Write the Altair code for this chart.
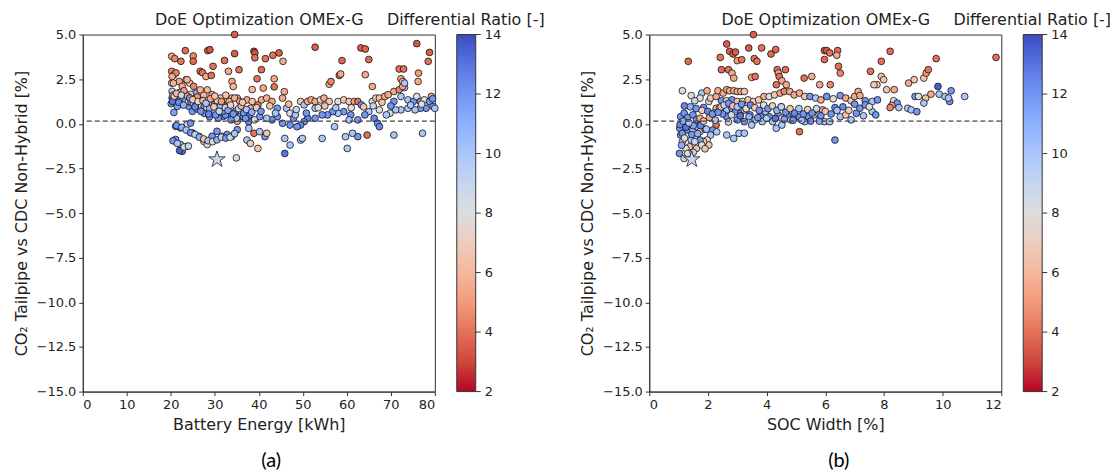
import altair as alt
import pandas as pd

# ---------------- Panel (a): Battery Energy ----------------
a_energy = [
    34.5, 20.2, 20.9, 22.3, 23.3, 25.1, 25.1, 28.4, 28.9, 32.2,
    34.5, 38.9, 39.1, 39.1, 41.5, 43.2, 44.6, 45.5, 52.8, 58.9,
    63.2, 64.2, 65.0, 75.9, 78.8, 78.5,
    20.2, 20.7, 21.2, 20.2, 21.9, 23.5, 24.3, 26.7, 27.2, 28.0,
    29.2, 29.6, 33.1, 35.5, 33.9, 34.2, 39.6, 41.0, 43.5, 43.5,
    40.6, 38.5, 45.8, 56.0, 56.4, 58.3, 58.6, 65.8, 64.2, 71.9,
    72.9, 72.3, 72.7, 76.3, 76.2, 73.1,
    20.3, 20.6, 20.3, 20.3, 20.1, 20.7, 22.2, 22.6, 23.7, 25.2,
    25.6, 26.0, 26.7, 28.3, 29.4, 21.5, 21.1, 23.0, 24.1, 24.9,
    26.0, 27.9, 29.4, 30.5, 31.7, 32.8, 33.9, 35.1, 31.3, 32.0,
    33.5, 34.7, 35.8, 35.1, 21.1, 22.2, 23.7, 24.5, 21.1, 22.2,
    22.6, 23.7, 24.9, 26.4, 27.5, 28.3, 29.4, 30.5, 31.7, 32.8,
    33.9, 35.1, 34.9,
    33.3, 34.5, 35.7, 37.3, 38.1, 38.5, 39.8, 40.6, 41.8, 43.0,
    44.2, 45.4, 46.3, 47.1, 47.9, 48.3, 49.5, 50.3, 51.1, 51.9,
    52.8, 52.8, 54.0, 54.8, 56.0, 58.0, 59.3, 60.5, 61.7, 62.5,
    63.3, 65.8, 66.6, 67.4, 68.6, 69.4, 70.7, 71.9, 72.7, 73.1,
    70.7, 72.3, 73.9, 75.1, 75.9, 76.7, 77.6, 78.8, 79.2, 79.6,
    78.0, 76.7, 75.5, 73.9, 72.3, 71.1, 69.8, 69.0, 67.4, 65.0,
    66.2, 67.0, 67.4, 64.1, 62.5, 60.9, 60.5, 59.3, 58.0, 56.8,
    55.6, 54.4, 52.8, 51.1, 50.3, 49.5, 48.7, 47.1, 45.4, 44.2,
    43.0, 41.8, 40.2, 39.0, 37.7, 36.5, 34.9, 33.7, 32.4, 30.8,
    30.0, 28.8, 27.6,
    37.7, 38.9, 40.2, 41.4, 41.8, 37.3, 38.1, 39.8, 45.9, 47.1,
    45.9, 49.5, 49.9, 54.4, 57.2, 59.7, 60.1, 61.3, 62.5, 64.6,
    70.7, 77.2, 80.0,
    21.0, 21.6, 22.2, 22.8, 23.4, 24.0, 24.6, 25.2, 25.8, 26.4,
    27.0, 27.6, 28.2, 28.8, 29.4, 30.0, 30.6, 31.2, 31.8, 32.4,
    33.0, 33.6, 34.2, 35.4, 36.0, 36.6, 37.2, 37.8, 38.4,
    20.5, 22.0, 23.0, 24.5, 26.0, 27.5, 29.0, 30.0, 31.5, 32.5,
    21.3, 22.5, 23.5, 24.5, 25.5, 26.5, 27.5, 28.5, 29.5, 30.5,
    31.5, 32.5, 33.5, 34.5, 20.5, 21.5, 22.0, 23.0, 24.0,
    20.4, 20.8, 21.3, 21.8, 22.4, 22.9, 23.8, 24.3, 25.0, 25.5,
    26.2, 26.8, 27.3, 28.0, 28.6, 29.8, 30.2, 31.0, 36.3, 37.0,
    39.5, 40.5, 42.5, 43.8, 46.8, 48.5, 50.8, 53.5, 55.0, 57.5,
    61.0, 63.8, 66.0, 68.0, 70.0, 74.5, 77.0, 79.5,
]
a_co2 = [
    5.0, 3.78, 3.65, 3.5, 4.1, 3.8, 3.5, 4.1, 4.15, 3.55,
    3.93, 4.06, 3.97, 3.7, 3.65, 3.84, 3.97, 3.5, 4.29, 3.54,
    4.25, 4.19, 3.6, 4.49, 4.0, 3.5,
    2.94, 2.75, 2.85, 2.28, 2.37, 2.47, 2.28, 2.94, 2.86, 2.65,
    2.71, 3.22, 2.94, 3.03, 2.37, 2.09, 2.52, 2.0, 2.52, 2.07,
    3.03, 1.92, 1.8, 2.22, 2.37, 2.71, 2.79, 2.09, 2.75, 3.07,
    3.07, 2.52, 2.37, 2.84, 2.37, 2.03,
    2.65, 2.28, 1.82, 1.44, 1.13, 0.64, 1.16, 2.1, 2.47, 2.1,
    1.72, 1.44, 1.9, 1.9, 1.63, 0.98, 1.35, 1.16, 0.98, 0.7,
    0.83, 0.6, 0.79, 0.88, 1.07, 1.35, 1.44, 1.44, 1.44, 0.42,
    0.6, 0.7, 0.42, 0.14, -0.14, -0.23, -0.04, 0.04, -0.88, -1.16,
    -1.54, -1.26, -0.51, -0.7, -0.98, -1.16, -0.7, -0.42, -0.7, -0.6,
    -0.7, -0.33, -1.91,
    1.25, 1.44, 1.25, 1.34, 0.87, 1.25, 1.06, 1.34, 1.44, 1.25,
    0.87, 1.44, 0.87, 0.59, 0.31, 0.5, 1.25, 1.06, 1.25, 1.34,
    1.25, 0.87, 1.34, 1.44, 1.25, 1.25, 1.34, 1.25, 1.25, 1.25,
    1.06, 1.25, 1.44, 1.44, 1.53, 1.63, 1.81, 1.91, 2.09, 2.28,
    1.25, 1.53, 1.34, 1.25, 1.53, 1.25, 1.34, 1.25, 1.53, 0.97,
    0.87, 0.87, 0.78, 0.87, 0.78, 0.78, 0.59, 0.5, 0.78, 0.68,
    0.31, 0.03, -0.16, 0.5, 0.22, 0.5, 0.22, 0.68, 0.59, 0.68,
    0.5, 0.5, 0.31, 0.31, 0.12, -0.07, -0.16, -0.07, 0.03, 0.4,
    0.22, 0.31, 0.4, 0.22, 0.12, 0.4, 0.31, 0.22, 0.5, 0.31,
    0.68, 0.4, 0.59,
    -0.25, -0.53, -0.44, -0.72, -0.53, -0.91, -1.1, -1.38, -0.82, -1.19,
    -1.66, -0.91, -0.82, -0.82, -0.16, -0.72, -1.38, -0.53, -0.72, -0.63,
    -0.63, -0.53, 0.87,
    1.45, 1.5, 1.4, 1.35, 1.3, 1.25, 1.2, 1.15, 1.1, 1.05,
    1.0, 0.95, 0.9, 0.85, 1.2, 1.1, 1.3, 0.95, 0.7, 0.9,
    0.75, 1.05, 0.55, 0.85, 1.0, 0.6, 0.8, 0.45, 0.65,
    1.6, 1.75, 1.85, 1.65, 1.5, 1.6, 1.4, 1.55, 1.25, 1.6,
    -0.1, -0.2, -0.35, -0.5, -0.6, -0.75, -0.85, -0.95, -1.0, -0.9,
    -0.75, -0.8, -0.75, -0.55, -0.95, -1.1, -1.5, -1.3, -1.25,
    1.25, 1.55, 1.7, 1.2, 1.6, 1.05, 1.55, 1.45, 1.35, 0.95,
    1.25, 0.7, 1.3, 1.15, 0.55, 0.95, 0.5, 0.7, 1.2, 0.3,
    0.9, 0.7, 1.0, 0.6, 1.1, 0.8, 0.6, 0.9, 1.0, 0.9,
    0.9, 0.95, 1.0, 1.2, 1.0, 1.05, 1.1, 1.4,
]
a_ratio = [
    3.5, 5.5, 4.5, 4.0, 3.8, 4.5, 3.8, 3.5, 3.3, 4.0,
    3.5, 3.0, 3.3, 4.0, 4.0, 4.0, 3.5, 5.5, 3.5, 3.8,
    3.5, 3.7, 3.8, 3.3, 3.5, 4.0,
    4.5, 5.0, 4.5, 6.0, 5.5, 6.0, 6.5, 3.8, 4.0, 5.5,
    4.0, 4.0, 5.5, 4.0, 5.5, 6.0, 4.0, 5.5, 5.5, 4.0,
    3.8, 6.0, 5.5, 5.5, 4.5, 4.0, 5.5, 5.5, 5.5, 4.0,
    4.0, 5.5, 6.5, 5.0, 5.5, 9.5,
    5.5, 6.0, 9.5, 12.5, 11.5, 11.5, 10.0, 5.5, 6.0, 4.5,
    11.5, 5.5, 6.0, 6.0, 5.5, 11.5, 8.0, 13.5, 12.0, 12.0,
    11.5, 12.0, 8.0, 10.0, 12.0, 5.5, 6.5, 5.5, 6.5, 12.0,
    12.0, 12.5, 11.5, 5.5, 12.0, 11.5, 8.0, 12.0, 12.0, 10.0,
    13.0, 8.0, 12.0, 10.0, 6.5, 8.0, 12.0, 12.0, 10.0, 12.0,
    10.0, 12.0, 8.0,
    5.5, 5.5, 5.5, 5.5, 5.5, 6.5, 4.0, 5.5, 5.5, 5.5,
    12.0, 5.5, 10.0, 8.0, 12.0, 10.0, 6.5, 10.0, 5.5, 5.5,
    5.5, 10.0, 8.0, 5.5, 6.5, 8.0, 6.5, 6.5, 5.5, 4.0,
    12.0, 8.0, 6.5, 6.5, 5.5, 5.5, 5.5, 4.5, 5.5, 10.0,
    12.0, 10.0, 10.0, 12.0, 8.0, 12.0, 8.0, 12.0, 5.5, 12.0,
    12.0, 12.0, 10.0, 10.0, 10.0, 10.0, 8.0, 10.0, 8.0, 10.0,
    12.5, 12.0, 12.5, 12.0, 12.0, 12.0, 10.0, 12.0, 10.0, 12.0,
    12.0, 12.0, 12.0, 12.5, 12.0, 12.5, 12.0, 12.0, 12.0, 12.0,
    12.0, 10.0, 12.0, 8.0, 12.0, 12.0, 10.0, 12.0, 12.0, 12.0,
    10.0, 12.0, 12.0,
    10.0, 4.0, 10.0, 12.0, 6.5, 10.0, 6.5, 6.5, 10.0, 10.0,
    13.0, 10.0, 10.0, 10.0, 10.0, 10.0, 10.0, 10.0, 12.0, 4.0,
    10.0, 10.0, 10.0,
    10.0, 8.0, 12.0, 6.5, 11.0, 7.5, 12.5, 7.0, 12.0, 9.0,
    6.5, 12.0, 8.0, 11.0, 6.0, 12.5, 7.0, 10.5, 12.0, 8.5,
    11.5, 7.0, 12.0, 9.0, 6.0, 12.0, 10.0, 13.0, 11.0,
    5.5, 6.0, 5.0, 6.5, 5.0, 6.0, 5.5, 6.5, 5.0, 6.5,
    12.0, 11.0, 10.0, 12.0, 9.5, 11.0, 6.5, 10.0, 7.5, 11.0,
    9.0, 12.0, 8.5, 10.0, 12.0, 10.0, 13.5, 8.5, 9.0,
    13.0, 7.0, 6.0, 12.5, 9.0, 11.0, 5.5, 12.0, 6.5, 12.5,
    8.0, 12.0, 5.5, 10.0, 12.5, 6.5, 12.0, 9.0, 6.5, 12.0,
    7.0, 12.0, 6.5, 10.0, 6.0, 9.0, 12.0, 8.0, 6.5, 10.0,
    8.0, 6.5, 9.0, 6.5, 12.0, 10.0, 8.0, 12.0,
]

# ---------------- Panel (b): SOC Width ----------------
b_soc = [
    3.55, 2.64, 2.74, 2.86, 2.94, 3.0, 3.15, 3.39, 3.58, 3.67,
    3.83, 4.15, 4.31, 1.33, 2.42, 2.46, 2.7, 2.82, 2.88, 3.49,
    3.61, 4.36, 4.64, 4.4, 4.43, 4.52, 4.33, 4.67, 5.28, 5.54,
    5.97, 6.05, 6.15, 6.42, 6.39, 6.45, 6.51, 5.97, 5.81, 6.17,
    7.54, 7.91, 8.21, 7.91, 7.99, 7.76, 8.35, 8.84, 9.03, 9.36,
    9.44, 9.51, 9.78, 11.82,
    1.13, 1.43, 1.79, 1.97, 1.73, 1.55, 1.85, 2.03, 2.09, 2.28,
    2.34, 2.52, 2.64, 2.74, 2.88, 3.0, 3.12, 3.24, 2.46, 2.64,
    2.82, 3.0, 3.18, 3.37, 3.55, 3.73, 3.91, 4.09, 4.27, 4.46,
    4.6, 4.79, 4.94, 5.12, 5.3, 5.48, 5.67, 5.85, 6.05, 6.27,
    6.51, 6.7, 6.88, 7.0, 7.12, 7.18, 7.36, 7.6, 7.66, 7.78,
    8.09, 8.33, 8.45, 8.27, 8.21, 8.51, 8.81, 8.93, 9.12, 9.06,
    9.18, 9.42, 9.36, 9.6, 9.84, 9.88, 10.08, 10.24, 10.29, 10.2,
    10.75,
    1.07, 1.19, 1.31, 1.49, 1.61, 1.73, 2.28, 2.4, 2.52, 2.64,
    2.82, 2.94, 3.12, 3.24, 3.43, 3.61, 3.79, 3.97, 4.09, 4.21,
    4.39, 4.52, 4.7, 4.82, 4.94, 5.12, 5.3, 5.42, 5.61, 5.79,
    5.91, 5.97, 6.15, 6.33, 6.51, 6.7, 6.88, 7.06, 7.18, 7.36,
    7.6, 7.72, 3.85, 3.24, 3.0, 2.64, 3.49, 4.33, 4.52, 5.12,
    6.33, 2.64, 2.88, 3.06, 3.24,
    2.28, 2.16, 2.09, 1.97, 2.03, 1.85, 1.73, 1.55, 1.43, 1.37,
    1.25, 1.13, 1.07, 1.04, 1.13, 1.31, 1.49, 1.61, 1.73, 1.03,
    1.19, 1.61, 1.79, 1.31,
    1.2, 1.4, 1.6, 1.8, 2.0, 2.2, 2.5, 2.8, 3.1, 3.4,
    3.7, 4.0, 4.3, 4.6, 4.9, 5.2, 5.5, 5.8, 1.25, 1.5,
    1.9, 2.3, 2.7, 3.3, 3.9, 4.5,
    1.05, 1.15, 1.25, 1.35, 1.45, 1.55, 1.65, 1.75, 1.85, 1.95,
    2.05, 2.15, 2.25, 2.35, 2.45, 2.55, 2.7, 2.85, 3.0, 3.15,
    3.3, 3.45, 3.6, 3.75, 3.9, 4.05, 4.2, 4.35, 4.5, 4.65,
    4.8, 4.95, 5.1, 5.25, 5.4, 5.55, 5.7, 5.85, 6.0, 6.2,
    6.4, 6.6, 6.8, 7.0, 7.3, 7.5, 1.9, 1.5, 1.1, 1.2,
]
b_co2 = [
    5.0, 4.47, 4.06, 3.91, 4.02, 3.54, 3.59, 4.25, 3.65, 3.5,
    4.25, 3.91, 4.16, 3.5, 3.72, 3.03, 3.03, 2.84, 2.56, 2.6,
    2.65, 3.03, 3.03, 2.84, 2.65, 2.41, 2.19, 2.19, 2.56, 2.65,
    4.1, 4.1, 3.97, 4.1, 3.84, 3.22, 2.84, 3.6, 2.19, 2.19,
    2.94, 3.5, 4.06, 2.65, 2.47, 2.19, 1.91, 2.28, 2.47, 2.56,
    2.84, 3.03, 3.65, 3.72,
    1.85, 1.58, 1.72, 1.85, 1.44, 1.29, 0.91, 1.25, 1.44, 1.53,
    1.85, 1.72, 1.91, 1.85, 1.85, 1.81, 1.81, 1.81, 1.29, 1.29,
    1.34, 1.25, 1.25, 1.34, 1.25, 1.34, 1.53, 1.53, 1.62, 1.72,
    1.81, 1.81, 1.62, 1.72, 1.53, 1.53, 1.44, 1.34, 1.53, 1.4,
    1.58, 1.44, 1.29, 1.53, 1.81, 1.58, 1.29, 1.25, 2.19, 1.34,
    1.91, 1.29, 1.16, 1.03, 0.91, 0.91, 0.87, 0.78, 0.68, 1.53,
    1.53, 1.44, 1.16, 1.66, 2.09, 1.66, 1.53, 1.25, 1.85, 1.44,
    1.53,
    0.4, 0.59, 0.35, 0.5, 0.22, 0.31, 0.87, 0.91, 0.68, 0.78,
    0.87, 0.68, 0.59, 0.78, 0.5, 0.22, 0.4, 0.68, 0.4, 0.12,
    0.5, 0.31, 0.5, 0.22, 0.31, 0.4, 0.12, 0.4, 0.5, 0.5,
    0.78, 0.12, 0.12, 0.91, 0.4, 0.5, 0.22, 0.59, 0.87, 1.06,
    0.68, 0.5, 0.12, 0.12, 0.22, 0.4, -0.07, -0.25, -0.07, -0.44,
    -0.91, -0.63, -0.82, -0.53, -0.53,
    -0.07, -0.35, -0.63, -0.91, -1.19, -1.0, -0.91, -0.72, -0.91, -1.29,
    -1.38, -1.0, -0.63, -0.25, -0.53, -0.35, -0.35, -0.16, -0.44, -1.66,
    -1.94, -1.38, -1.19, -1.66,
    1.0, 0.95, 0.85, 0.75, 0.7, 0.6, 0.55, 0.5, 0.45, 0.4,
    0.35, 0.3, 0.3, 0.25, 0.2, 0.2, 0.15, 0.15, 0.05, -0.1,
    -0.3, -0.45, 0.1, 0.85, 0.9, 0.95,
    -0.05, 0.15, -0.2, 0.05, -0.6, -1.0, -0.55, -0.1, 0.15, -0.3,
    0.35, 0.55, 0.2, 0.65, 0.95, 1.05, 1.15, 1.0, 0.95, 1.1,
    0.85, 1.05, 0.9, 0.75, 1.05, 0.85, 1.0, 0.75, 0.95, 0.65,
    0.85, 0.6, 0.85, 0.55, 0.8, 0.6, 0.85, 0.45, 0.7, 0.55,
    0.75, 0.95, 0.75, 1.1, 0.45, 0.95, -1.4, -1.6, -1.2, -0.8,
]
b_ratio = [
    3.5, 3.5, 3.5, 3.5, 3.5, 5.0, 4.0, 3.5, 4.0, 4.0,
    4.0, 3.8, 3.8, 3.8, 4.0, 3.8, 4.0, 5.5, 5.5, 5.5,
    4.0, 4.0, 4.0, 5.5, 4.0, 5.5, 4.0, 5.5, 4.0, 5.5,
    3.5, 3.5, 4.0, 3.8, 5.5, 4.0, 4.5, 3.8, 5.5, 4.5,
    4.0, 4.0, 3.8, 6.5, 6.5, 6.5, 5.5, 5.5, 6.5, 6.5,
    5.0, 4.0, 4.0, 4.0,
    8.0, 8.0, 10.0, 5.5, 8.0, 9.0, 12.0, 9.0, 6.5, 5.5,
    5.5, 5.5, 5.5, 5.5, 5.5, 5.5, 5.5, 6.5, 12.0, 8.0,
    12.0, 6.5, 8.0, 6.5, 6.5, 6.5, 5.5, 8.0, 6.5, 5.5,
    4.5, 5.5, 5.5, 5.5, 6.5, 12.0, 10.0, 5.5, 12.0, 8.0,
    12.0, 5.5, 6.5, 5.5, 5.5, 5.5, 12.0, 10.0, 6.5, 12.0,
    6.5, 8.0, 12.0, 5.5, 4.5, 10.0, 10.0, 10.0, 12.0, 12.0,
    8.0, 6.5, 10.0, 5.5, 13.5, 10.0, 10.0, 12.0, 12.0, 10.0,
    10.0,
    12.0, 12.0, 12.0, 12.0, 12.0, 5.5, 5.5, 5.5, 12.0, 10.0,
    12.0, 12.0, 12.0, 6.5, 12.0, 10.0, 12.0, 10.0, 12.0, 10.0,
    12.0, 8.0, 12.0, 10.0, 12.0, 12.0, 10.0, 12.0, 6.5, 10.0,
    5.5, 10.0, 10.0, 12.5, 10.0, 6.5, 10.0, 12.0, 12.0, 12.0,
    10.0, 12.0, 10.0, 12.0, 12.0, 12.0, 10.0, 10.0, 10.0, 4.0,
    12.0, 10.0, 10.0, 10.0, 10.0,
    4.0, 12.0, 10.0, 8.0, 6.5, 6.5, 12.0, 8.0, 10.0, 6.5,
    8.0, 8.0, 12.0, 12.0, 12.0, 12.0, 10.0, 10.0, 6.5, 12.0,
    8.5, 6.5, 8.0, 8.0,
    12.5, 11.0, 12.0, 7.0, 12.5, 10.0, 12.0, 8.5, 13.0, 11.0,
    12.0, 9.5, 13.0, 11.5, 12.0, 10.5, 12.5, 11.0, 13.0, 11.5,
    12.0, 10.0, 9.0, 7.5, 8.0, 7.0,
    12.5, 11.0, 13.0, 10.0, 12.0, 9.0, 11.0, 12.5, 6.5, 10.0,
    5.5, 12.0, 10.0, 12.0, 6.5, 9.0, 12.0, 6.5, 10.0, 12.0,
    8.0, 12.5, 6.5, 12.0, 8.0, 12.0, 7.0, 11.0, 9.0, 12.0,
    6.5, 12.5, 10.0, 12.0, 7.0, 12.0, 9.0, 12.0, 6.5, 12.0,
    10.0, 12.5, 7.0, 12.0, 10.0, 8.0, 6.5, 9.0, 11.0, 8.0,
]

# Reference markers
star_energy = [30.5]
star_soc = [1.45]
star_co2 = [-2.0]
ref_line = [0.15]
y_ticks = [-15.0, -12.5, -10.0, -7.5, -5.0, -2.5, 0.0, 2.5, 5.0]
cbar_ticks = [2, 4, 6, 8, 10, 12, 14]
Y_MIN, Y_MAX = -15, 5
R_MIN, R_MAX = 2, 14

# coolwarm (reversed): red at 2, blue at 14
cw_domain = [2, 3.5, 5, 6.5, 8, 9.5, 11, 12.5, 14]
cw_range = ["#b40426", "#dc5d4a", "#f49a7b", "#f4c5ad", "#dddddd",
            "#b9d0f9", "#8db0fe", "#6788ee", "#3b4cc0"]

STAR = ("M0,-1L0.2245,-0.309L0.9511,-0.309L0.3633,0.118L0.5878,0.809L0,0.382"
        "L-0.5878,0.809L-0.3633,0.118L-0.9511,-0.309L-0.2245,-0.309Z")

W, H = 353, 358
CB_X, CB_W = W + 22, 19
TXT = "#222222"


def panel(xs, ys, rs, xfield, xtitle, xmax, xvals, sx, tag, tag_x):
    df = pd.DataFrame({xfield: xs, "co2": ys, "ratio": rs})
    xenc = alt.X(f"{xfield}:Q",
                 scale=alt.Scale(domain=[0, xmax], nice=False, zero=False),
                 axis=alt.Axis(values=xvals, format="d", title=xtitle,
                               titlePadding=5))
    yenc = alt.Y("co2:Q", scale=alt.Scale(domain=[Y_MIN, Y_MAX], nice=False),
                 axis=alt.Axis(values=y_ticks, format=".1f",
                               title="CO₂ Tailpipe vs CDC Non-Hybrid [%]",
                               titlePadding=7))
    pts = alt.Chart(df).mark_circle(size=46, opacity=1, stroke="#111111",
                                    strokeWidth=0.8).encode(
        x=xenc, y=yenc,
        color=alt.Color("ratio:Q",
                        scale=alt.Scale(domain=cw_domain, range=cw_range, clamp=True),
                        legend=alt.Legend(title=None, orient="none",
                                          legendX=CB_X, legendY=0,
                                          direction="vertical",
                                          gradientLength=H, gradientThickness=CB_W,
                                          values=cbar_ticks, labelExpr="''",
                                          labelFontSize=1, labelOffset=0,
                                          gradientStrokeColor="#333333",
                                          gradientStrokeWidth=1)))
    rule = alt.Chart(pd.DataFrame({"y": ref_line})).mark_rule(
        strokeDash=[5, 3], color="#444444", strokeWidth=1.2).encode(y="y:Q")
    star = alt.Chart(pd.DataFrame({xfield: sx, "co2": star_co2})).mark_point(
        shape=STAR, size=300, filled=True, fill="#c8d6ee", stroke="#333333",
        strokeWidth=0.9, opacity=1).encode(x=f"{xfield}:Q", y="co2:Q")
    # colorbar ticks and labels, mapped from ratio onto the shared vertical scale
    cb = alt.Chart(pd.DataFrame({"v": cbar_ticks})).transform_calculate(
        pos=f"{Y_MIN} + (datum.v - {R_MIN}) * {Y_MAX - Y_MIN} / {R_MAX - R_MIN}")
    cb_ticks = cb.mark_rule(color="#333333", strokeWidth=1).encode(
        y="pos:Q", x=alt.value(CB_X + CB_W), x2=alt.value(CB_X + CB_W + 5))
    cb_labels = cb.mark_text(fontSize=13, color=TXT, align="left",
                             baseline="middle").encode(
        y="pos:Q", x=alt.value(CB_X + CB_W + 9), text=alt.Text("v:Q", format="d"))
    labels = pd.DataFrame({"t": ["DoE Optimization OMEx-G", "Differential Ratio [-]", tag],
                           "px": [177, 384, tag_x], "py": [-15, -15, 428]})
    t1 = alt.Chart(labels.iloc[:2]).mark_text(fontSize=16, color=TXT,
                                              baseline="middle").encode(
        x=alt.X("px:Q", scale=None), y=alt.Y("py:Q", scale=None), text="t:N")
    t2 = alt.Chart(labels.iloc[2:]).mark_text(fontSize=20, color="#000000",
                                              font="Lato", baseline="middle").encode(
        x=alt.X("px:Q", scale=None), y=alt.Y("py:Q", scale=None), text="t:N")
    return alt.layer(pts, rule, star, cb_ticks, cb_labels, t1, t2).properties(
        width=W, height=H)


pa = panel(a_energy, a_co2, a_ratio, "energy", "Battery Energy [kWh]", 80,
           [0, 10, 20, 30, 40, 50, 60, 70, 80], star_energy, "(a)", 189)
pb = panel(b_soc, b_co2, b_ratio, "soc", "SOC Width [%]", 12,
           [0, 2, 4, 6, 8, 10, 12], star_soc, "(b)", 190)

chart = alt.hconcat(pa, pb, spacing=33).resolve_scale(
    x="independent", y="independent", color="independent"
).resolve_legend(color="independent").properties(
    padding={"left": 12, "top": 10, "right": 5, "bottom": 0}
).configure(font="DejaVu Sans", background="white").configure_view(
    stroke="#333333", strokeWidth=1
).configure_axis(
    grid=False, domainColor="#333333", tickColor="#333333", tickSize=4,
    labelFontSize=13, labelColor=TXT, titleFontSize=16, titleFontWeight="normal",
    titleColor=TXT, labelPadding=3
)

chart.save("out.html", embed_options={"renderer": "svg", "actions": False})
